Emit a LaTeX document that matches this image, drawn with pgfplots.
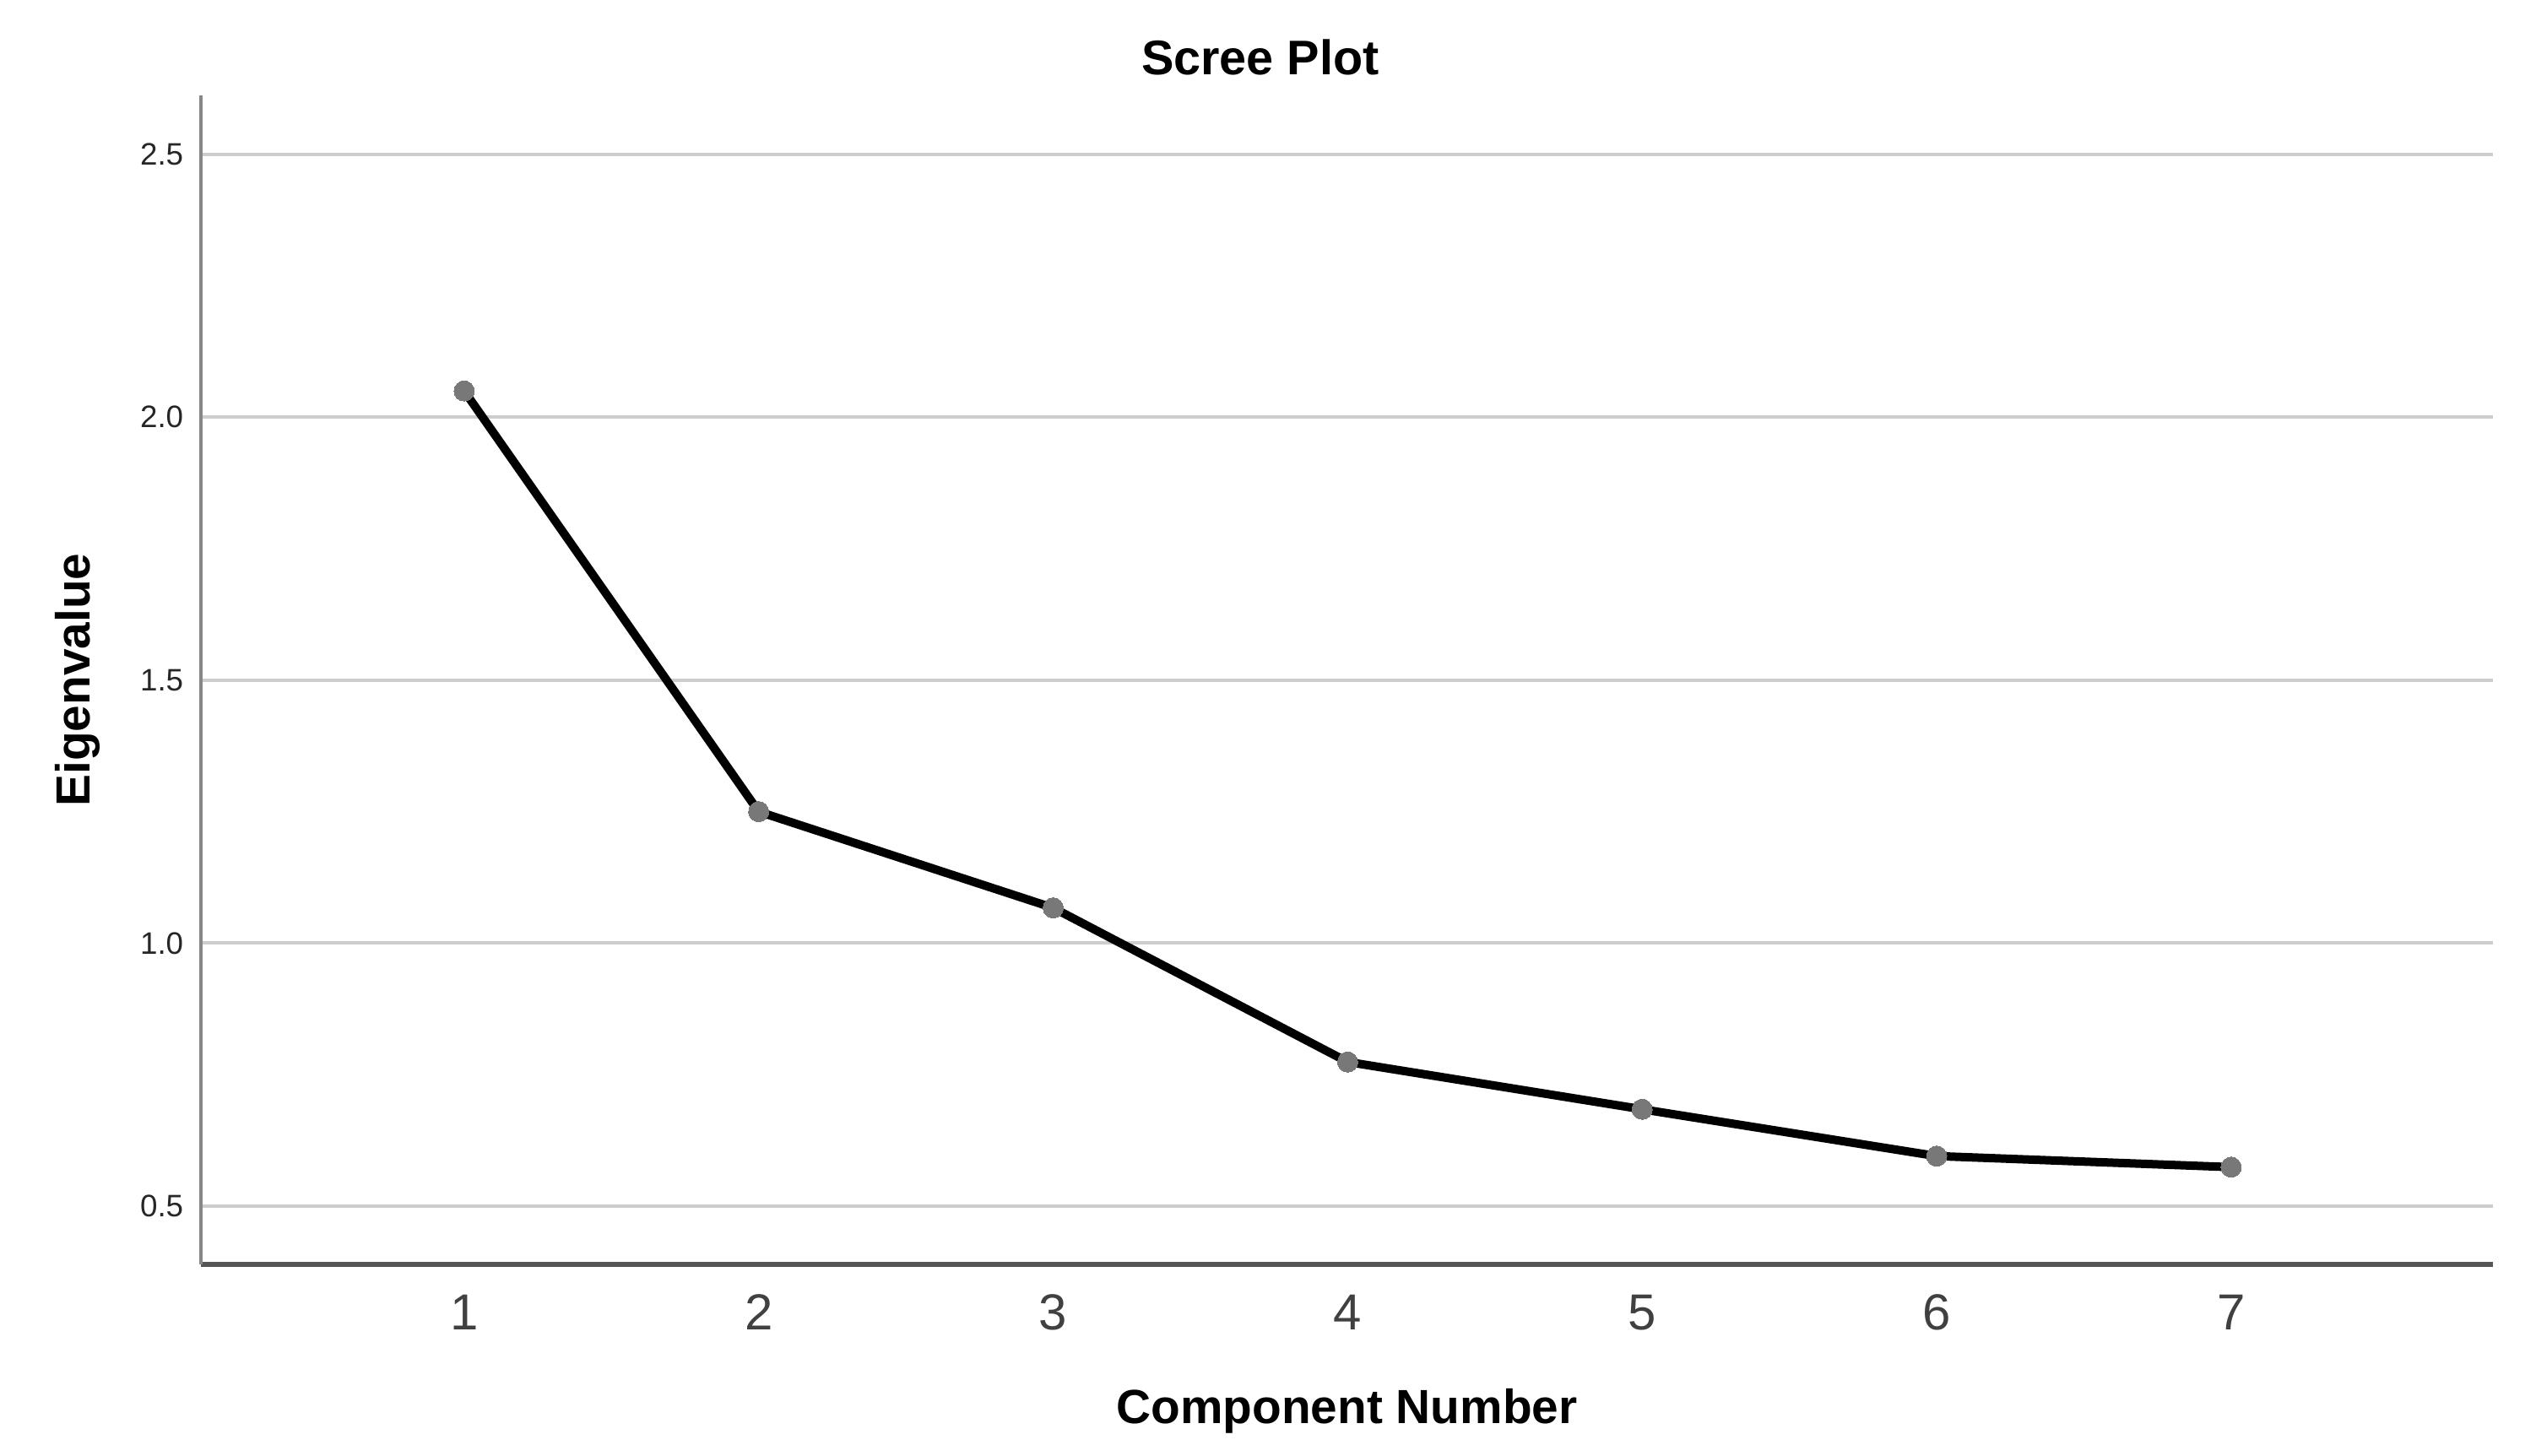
\documentclass[border=0pt]{standalone}
\usepackage{fontspec}
\setmainfont{Liberation Sans}
\usepackage{pgfplots}
\pgfplotsset{compat=1.18}
\definecolor{markgray}{RGB}{120,120,120}
\definecolor{gridgray}{RGB}{205,205,205}
\definecolor{yaxgray}{RGB}{135,135,135}
\definecolor{xaxgray}{RGB}{85,85,85}
\begin{document}
\begin{tikzpicture}
\useasboundingbox (-59.5pt,-56.5pt) rectangle (691.5pt,374.5pt);
\begin{axis}[
  scale only axis,
  width=678.75pt, height=346.25pt,
  at={(0,0)}, anchor=south west,
  xmin=0.106, xmax=7.889,
  ymin=0.389, ymax=2.612,
  axis x line=bottom, axis y line=left,
  axis line style={-},
  x axis line style={draw=xaxgray, line width=1.3pt},
  y axis line style={draw=yaxgray, line width=1pt},
  xtick={1,2,3,4,5,6,7},
  ytick={0.5,1.0,1.5,2.0,2.5},
  major tick length=0pt,
  ymajorgrids,
  major grid style={draw=gridgray, line width=1pt},
  /pgf/number format/assume math mode=true,
  yticklabel style={/pgf/number format/fixed, /pgf/number format/fixed zerofill, /pgf/number format/precision=1,
    font=\fontsize{9.2}{11}\selectfont, text=black!85, anchor=east, inner sep=0pt, xshift=-5pt},
  xticklabel style={font=\fontsize{15}{18}\selectfont, text=black!75, anchor=base, inner sep=0pt, yshift=-19.25pt},
  title={\bfseries Scree Plot},
  title style={at={(rel axis cs:0.4622,1)}, anchor=base, inner sep=0pt, yshift=0.2pt, font=\fontsize{14.4}{17}\selectfont},
  xlabel={\bfseries Component Number},
  xlabel style={at={(rel axis cs:0.5,0)}, anchor=base, inner sep=0pt, yshift=-47pt, font=\fontsize{14.2}{17}\selectfont},
  ylabel={\bfseries Eigenvalue},
  ylabel style={at={(rel axis cs:-0.0538,0.5)}, anchor=center, rotate=0, inner sep=0pt, font=\fontsize{14.2}{17}\selectfont},
  clip=false,
]
\addplot[black, line width=2.5pt, mark=*, mark size=3pt, mark options={solid, draw=markgray, fill=markgray, line width=0pt}]
  coordinates {(1,2.050) (2,1.250) (3,1.067) (4,0.774) (5,0.684) (6,0.595) (7,0.574)};
\end{axis}
\end{tikzpicture}
\end{document}
